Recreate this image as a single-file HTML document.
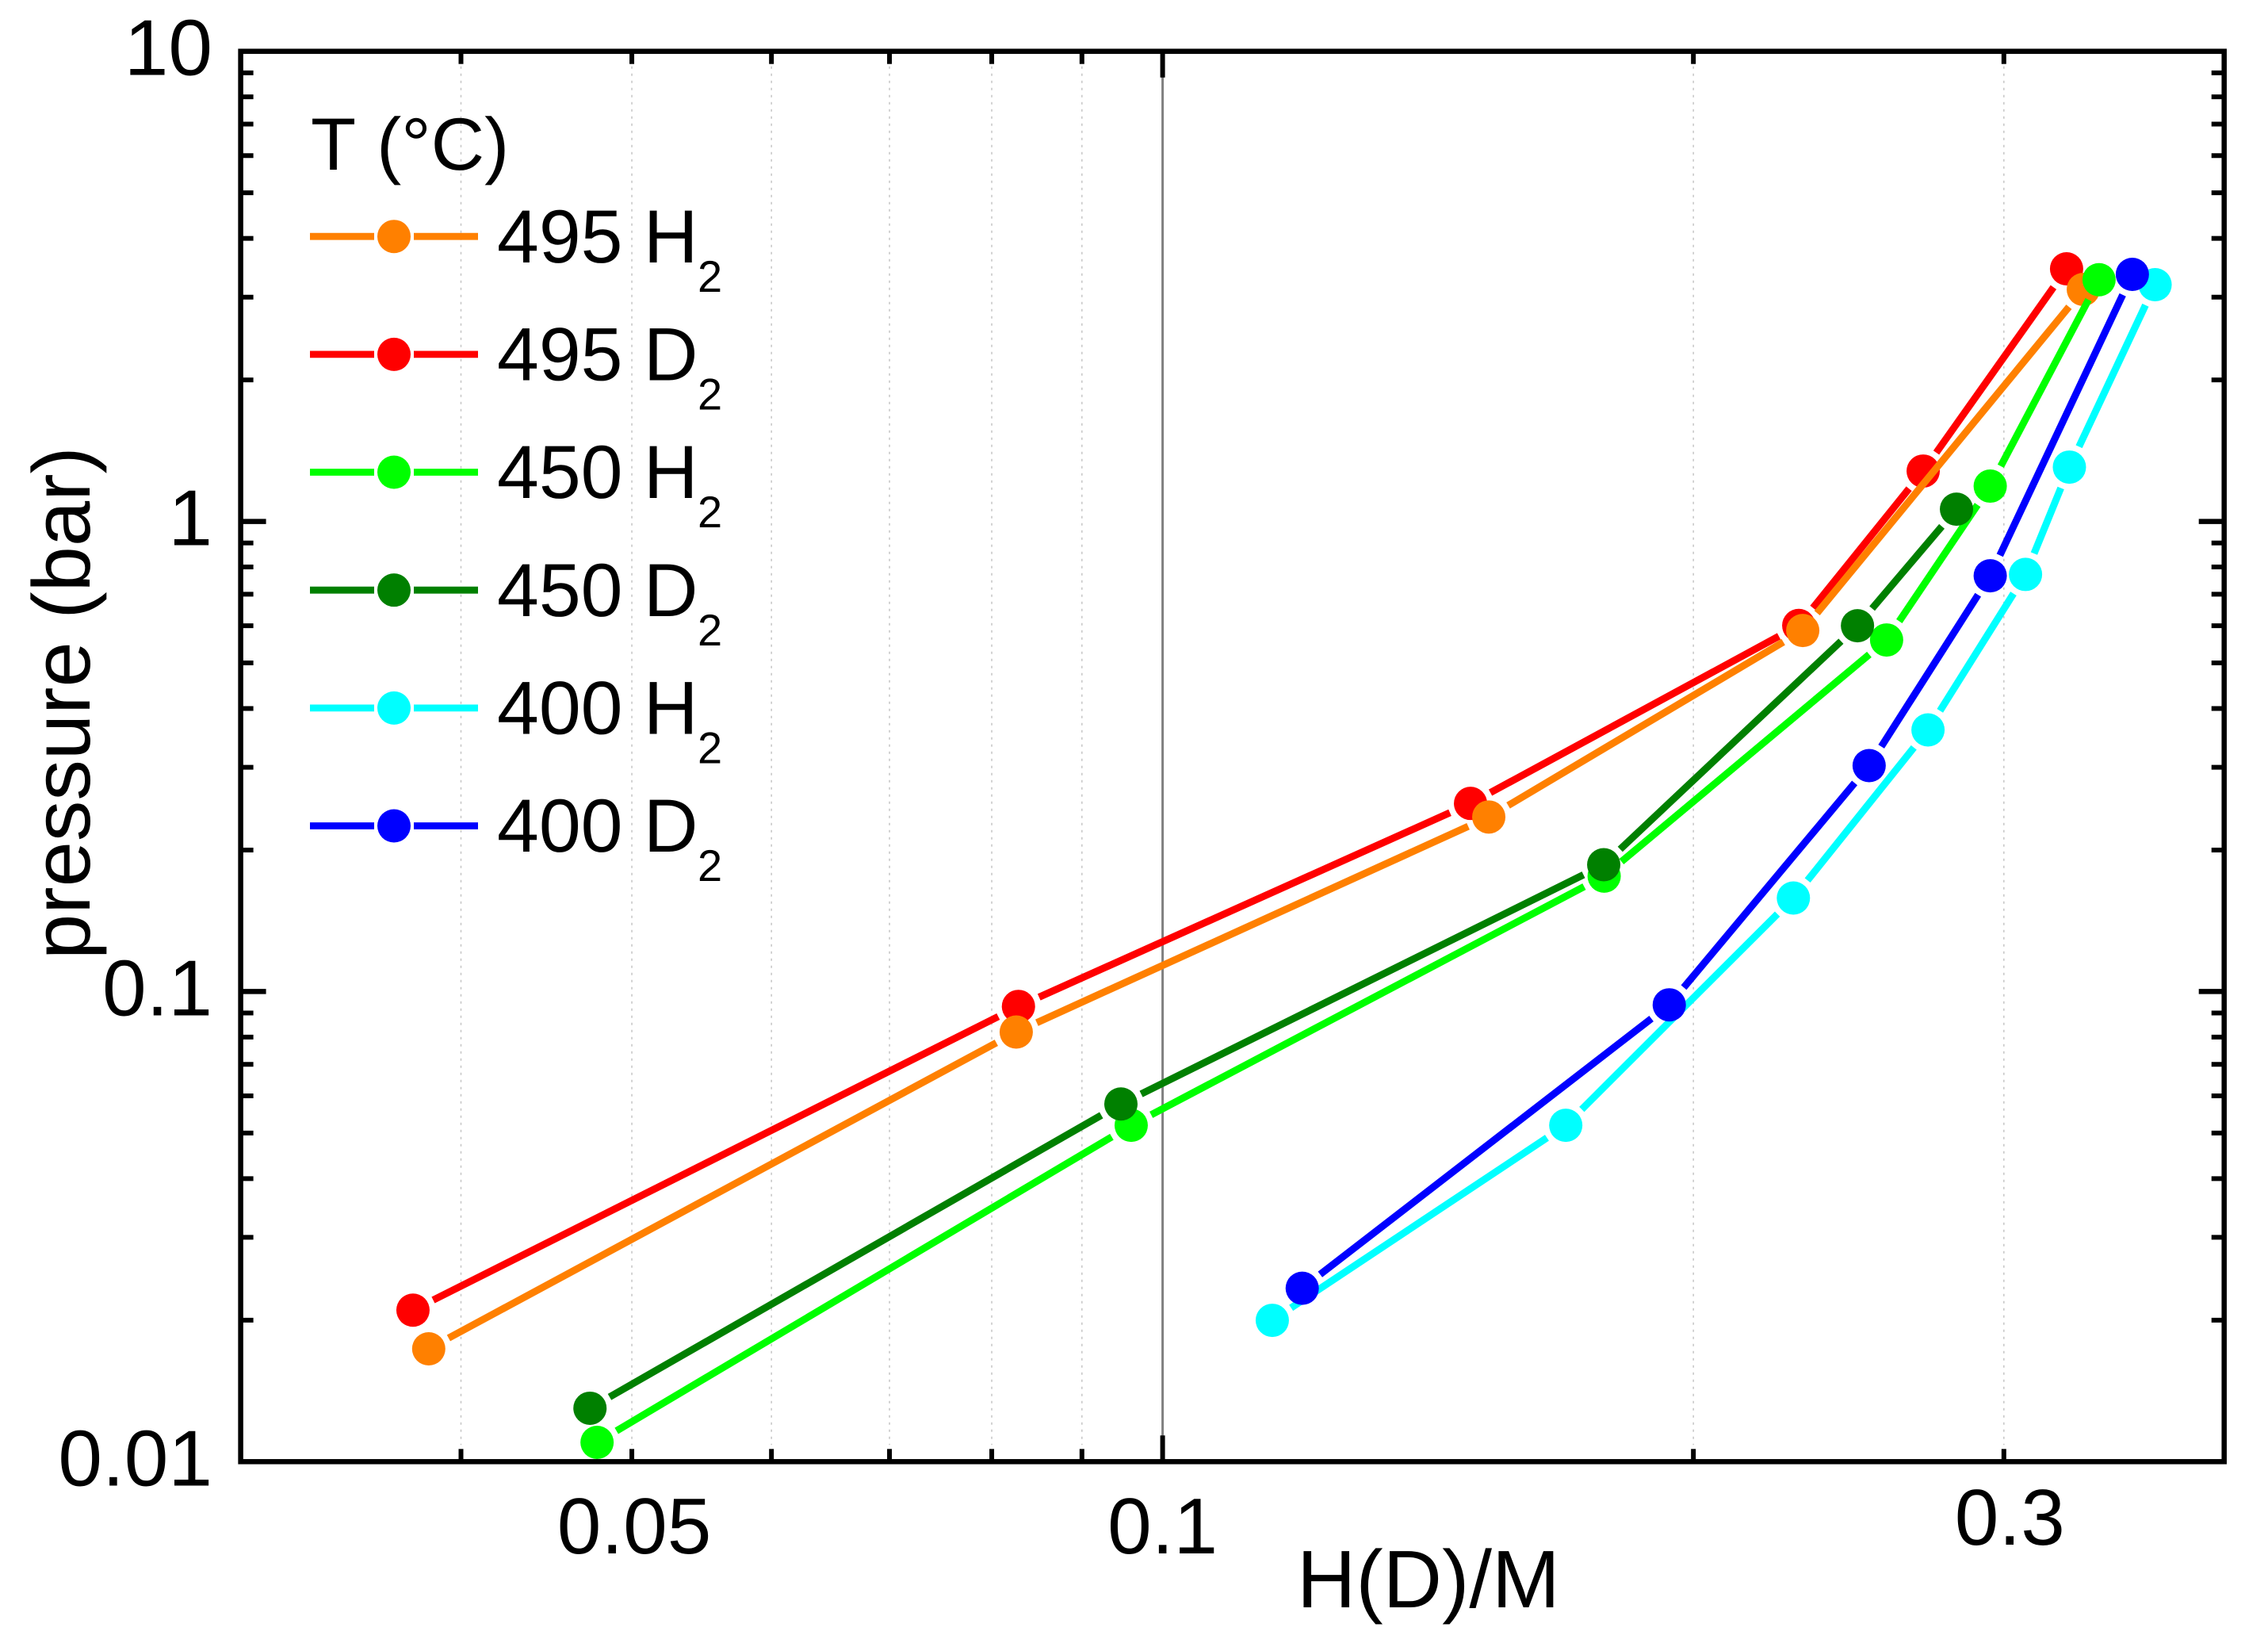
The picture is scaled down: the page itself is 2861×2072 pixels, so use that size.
<!DOCTYPE html>
<html lang="en">
<head>
<meta charset="utf-8">
<title>Pressure vs H(D)/M</title>
<style>
html,body{margin:0;padding:0;background:#fff;width:2861px;height:2072px;overflow:hidden}
svg{display:block}
text{font-family:"Liberation Sans",Arial,sans-serif;fill:#000;font-kerning:none;text-rendering:geometricPrecision}
</style>
</head>
<body>
<svg id="chart" xmlns="http://www.w3.org/2000/svg" width="2861" height="2072" viewBox="0 0 2861 2072">
  <rect x="0" y="0" width="2861" height="2072" fill="#fff"/>
  <g id="grid"></g>
  <g id="series"></g>
  <g id="ticks"></g>
  <g id="frame">
    <rect x="303.6" y="64.7" width="2502.1" height="1778.6" fill="none" stroke="#000" stroke-width="6.5"/>
  </g>
  <g id="tick-labels"></g>
  <text x="1636" y="2027" font-size="103">H(D)/M</text>
  <text transform="translate(113,1210) rotate(-90)" font-size="103">pressure (bar)</text>
  <text x="392" y="214" font-size="93.5">T (°C)</text>
  <g id="legend"></g>
</svg>
<script>
// ---- chart data ----
const xLimits = [0.03, 0.4];
const yLimits = [0.01, 10];
const xMinorTicks = [0.04, 0.05, 0.06, 0.07, 0.08, 0.09, 0.2, 0.3];
const xMajorTicks = [0.1];
const xTickLabels = ["0.05", "0.1", "0.3"];
const yMajorTicks = [0.01, 0.1, 1, 10];
const yMinorMultipliers = [2, 3, 4, 5, 6, 7, 8, 9];
const yTickLabels = ["0.01", "0.1", "1", "10"];

const d495D2x = [0.03757, 0.08284, 0.1495, 0.2295, 0.2700, 0.3256];
const d495D2y = [0.02100, 0.09297, 0.2513, 0.6007, 1.2797, 3.446];
const h495H2x = [0.03835, 0.08260, 0.1531, 0.2307, 0.3328];
const h495H2y = [0.01738, 0.08200, 0.2351, 0.5861, 3.115];
const h450H2x = [0.04778, 0.09598, 0.1780, 0.2574, 0.2947, 0.3397];
const h450H2y = [0.01099, 0.05193, 0.1760, 0.5595, 1.1887, 3.267];
const d450D2x = [0.04734, 0.09470, 0.1779, 0.2478, 0.2820];
const d450D2y = [0.01299, 0.05765, 0.1861, 0.6000, 1.0619];
const h400H2x = [0.1154, 0.1693, 0.2279, 0.2717, 0.3086, 0.3268, 0.3655];
const h400H2y = [0.01998, 0.05193, 0.1581, 0.3602, 0.7713, 1.3048, 3.1882];
const d400D2x = [0.1200, 0.1938, 0.2516, 0.2947, 0.3548];
const d400D2y = [0.02338, 0.09370, 0.3024, 0.7663, 3.3535];

const seriesDrawOrder = [
  {key:"495-d2", color:"#ff0000", xs:d495D2x, ys:d495D2y},
  {key:"495-h2", color:"#ff8000", xs:h495H2x, ys:h495H2y},
  {key:"450-h2", color:"#00ff00", xs:h450H2x, ys:h450H2y},
  {key:"450-d2", color:"#008000", xs:d450D2x, ys:d450D2y},
  {key:"400-h2", color:"#00ffff", xs:h400H2x, ys:h400H2y},
  {key:"400-d2", color:"#0000ff", xs:d400D2x, ys:d400D2y}
];
const legendLabels = ["495 H", "495 D", "450 H", "450 D", "400 H", "400 D"];
const legendColors = ["#ff8000", "#ff0000", "#00ff00", "#008000", "#00ffff", "#0000ff"];

// ---- axis functions ----
const plotLeft = 303.6, plotRight = 2805.7, plotTop = 64.7, plotBottom = 1843.3;
function xScale(v){
  const a = Math.log10(xLimits[0]), b = Math.log10(xLimits[1]);
  return plotLeft + (Math.log10(v) - a) / (b - a) * (plotRight - plotLeft);
}
function yScale(v){
  const a = Math.log10(yLimits[0]), b = Math.log10(yLimits[1]);
  return plotBottom - (Math.log10(v) - a) / (b - a) * (plotBottom - plotTop);
}

const NS = "http://www.w3.org/2000/svg";
function make(parent, tag, attrs){
  const el = document.createElementNS(NS, tag);
  for (const k in attrs) el.setAttribute(k, attrs[k]);
  parent.appendChild(el);
  return el;
}
const gridG = document.getElementById("grid");
const tickG = document.getElementById("ticks");
const labelG = document.getElementById("tick-labels");
const seriesG = document.getElementById("series");
const legendG = document.getElementById("legend");

// ---- grid and x ticks ----
xMinorTicks.forEach(function(v){
  const x = xScale(v);
  const g = make(gridG, "line", {x1:x, x2:x, y1:plotTop+19, y2:plotBottom-21, stroke:"#c4c4c4", "stroke-width":1.5, "stroke-dasharray":"3 6"});
  
  
  const b = make(tickG, "line", {x1:x, x2:x, y1:plotBottom, y2:plotBottom-16, stroke:"#000", "stroke-width":6});
  
  
  const t = make(tickG, "line", {x1:x, x2:x, y1:plotTop, y2:plotTop+16, stroke:"#000", "stroke-width":6});
  
  
});
xMajorTicks.forEach(function(v){
  const x = xScale(v);
  const g = make(gridG, "line", {x1:x, x2:x, y1:plotTop, y2:plotBottom, stroke:"#808080", "stroke-width":3});
  
  
  const b = make(tickG, "line", {x1:x, x2:x, y1:plotBottom, y2:plotBottom-33, stroke:"#000", "stroke-width":6});
  
  
  const t = make(tickG, "line", {x1:x, x2:x, y1:plotTop, y2:plotTop+33, stroke:"#000", "stroke-width":6});
  
  
});

// ---- y ticks ----
yMajorTicks.forEach(function(v){
  const y = yScale(v);
  if (v > yLimits[0] && v < yLimits[1]) {
    const l = make(tickG, "line", {x1:plotLeft, x2:plotLeft+32, y1:y, y2:y, stroke:"#000", "stroke-width":6.5});
    
    
    const r = make(tickG, "line", {x1:plotRight, x2:plotRight-32, y1:y, y2:y, stroke:"#000", "stroke-width":6.5});
    
    
  }
  if (v < yLimits[1]) {
    yMinorMultipliers.forEach(function(m){
      const ym = yScale(v * m);
      const l = make(tickG, "line", {x1:plotLeft, x2:plotLeft+16, y1:ym, y2:ym, stroke:"#000", "stroke-width":6});
      
      
      const r = make(tickG, "line", {x1:plotRight, x2:plotRight-16, y1:ym, y2:ym, stroke:"#000", "stroke-width":6});
      
      
    });
  }
});

// ---- tick labels ----
xTickLabels.forEach(function(s){
  const v = parseFloat(s);
  const nudge = v === 0.3 ? 7.5 : (v === 0.05 ? 3 : 0);
  const base = v === 0.3 ? 1948 : 1959;
  const t = make(labelG, "text", {x:xScale(v)+nudge, y:base, "font-size":100, "text-anchor":"middle"});
  
  
  t.textContent = s;
});
yTickLabels.forEach(function(s){
  const v = parseFloat(s);
  const t = make(labelG, "text", {x:268, y:yScale(v)+30, "font-size":100, "text-anchor":"end"});
  
  
  t.textContent = s;
});

// ---- series ----
const segmentTrim = 28.5;
const lineWidth = 9;
const markerRadius = 21;
seriesDrawOrder.forEach(function(s){
  const g = make(seriesG, "g", {});
  
  
  const px = s.xs.map(xScale);
  const py = s.ys.map(yScale);
  for (let i = 0; i < px.length - 1; i++) {
    const dx = px[i+1] - px[i], dy = py[i+1] - py[i];
    const len = Math.hypot(dx, dy);
    if (len <= 2 * segmentTrim) continue;
    const ux = dx / len, uy = dy / len;
    const seg = make(g, "line", {
      x1:px[i] + ux * segmentTrim, y1:py[i] + uy * segmentTrim,
      x2:px[i+1] - ux * segmentTrim, y2:py[i+1] - uy * segmentTrim,
      stroke:s.color, "stroke-width":lineWidth
    });
    
    
  }
  px.forEach(function(x, i){
    const c = make(g, "circle", {cx:x, cy:py[i], r:markerRadius, fill:s.color});
    
    
  });
});

// ---- legend ----
const legendFirstRow = 298.2, legendRowStep = 148.66;
legendLabels.forEach(function(label, i){
  const y = legendFirstRow + i * legendRowStep;
  const g = make(legendG, "g", {});
  
  
  const a = make(g, "line", {x1:391, x2:472, y1:y, y2:y, stroke:legendColors[i], "stroke-width":8.8});
  
  
  const b = make(g, "line", {x1:522, x2:603, y1:y, y2:y, stroke:legendColors[i], "stroke-width":8.8});
  
  
  const c = make(g, "circle", {cx:497, cy:y, r:21, fill:legendColors[i]});
  
  
  const t = make(g, "text", {x:627, y:y+32.6, "font-size":95});
  
  
  t.textContent = label;
  const sub = make(g, "text", {x:880, y:y+69.6, "font-size":56});
  
  
  sub.textContent = "2";
});
</script>
</body>
</html>
